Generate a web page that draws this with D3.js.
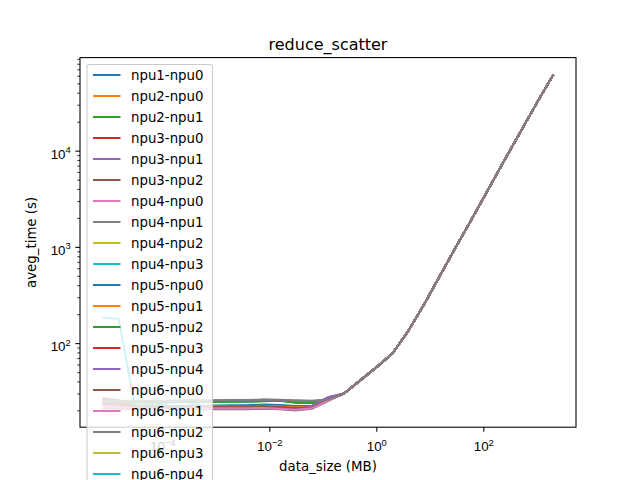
<!DOCTYPE html>
<html>
<head>
<meta charset="utf-8">
<script src="https://cdn.jsdelivr.net/npm/d3@7"></script>
<style>
  body { margin: 0; background: #fff; }
  svg { display: block; font-family: "DejaVu Sans", sans-serif; }
</style>
</head>
<body>
<svg width="640" height="480"></svg>
<script>
// message sizes in bytes (8 B .. 2 GB, doubling)
const sizesBytes = [8, 16, 32, 64, 128, 256, 512, 1024, 2048, 4096, 8192, 16384, 32768,
  65536, 131072, 262144, 524288, 1048576, 2097152, 4194304, 8388608, 16777216, 33554432,
  67108864, 134217728, 268435456, 536870912, 1073741824, 2147483648];

const pairNames = ["npu1-npu0", "npu2-npu0", "npu2-npu1", "npu3-npu0", "npu3-npu1",
  "npu3-npu2", "npu4-npu0", "npu4-npu1", "npu4-npu2", "npu4-npu3", "npu5-npu0",
  "npu5-npu1", "npu5-npu2", "npu5-npu3", "npu5-npu4", "npu6-npu0", "npu6-npu1",
  "npu6-npu2", "npu6-npu3", "npu6-npu4", "npu6-npu5", "npu7-npu0", "npu7-npu1",
  "npu7-npu2", "npu7-npu3", "npu7-npu4", "npu7-npu5", "npu7-npu6"];

// per-pair times for the small sizes (8 B .. 128 KB)
const headTimes = [
  [23.0, 22.6, 22.4, 22.3, 22.2, 22.3, 22.4, 22.5, 22.6, 22.7, 23.0, 22.8, 22.2, 22.4, 26.0],
  [26.5, 24.0, 22.0, 21.7, 21.6, 21.5, 21.6, 21.7, 21.8, 21.9, 22.1, 21.8, 21.2, 21.7, 25.8],
  [24.2, 24.3, 24.3, 24.4, 24.3, 24.5, 24.6, 24.6, 24.7, 24.8, 25.0, 25.4, 24.1, 24.0, 25.6],
  [24.5, 23.0, 21.8, 21.5, 21.4, 21.5, 21.6, 21.7, 21.8, 21.9, 22.0, 21.7, 21.1, 21.6, 25.7],
  [22.8, 22.0, 21.4, 21.2, 21.0, 20.9, 21.0, 21.1, 21.2, 21.3, 21.5, 21.0, 20.6, 21.8, 27.2],
  [26.8, 25.5, 22.5, 22.0, 21.8, 21.7, 21.8, 21.9, 22.0, 22.0, 22.2, 21.8, 21.3, 21.8, 25.9],
  [22.5, 21.8, 21.2, 21.0, 20.9, 21.0, 21.1, 21.2, 21.2, 21.3, 21.4, 21.0, 20.5, 21.3, 25.4],
  [25.5, 25.2, 25.0, 25.1, 25.2, 25.3, 25.4, 25.5, 25.6, 25.6, 25.9, 25.8, 25.4, 25.2, 26.0],
  [23.5, 22.5, 21.8, 21.6, 21.5, 21.5, 21.6, 21.7, 21.7, 21.8, 22.0, 21.6, 21.0, 21.5, 25.6],
  [24.0, 23.0, 22.0, 21.8, 21.7, 21.8, 21.9, 22.0, 22.0, 22.1, 22.3, 21.9, 21.3, 21.8, 25.8],
  [22.8, 22.2, 21.9, 21.8, 21.7, 21.8, 21.9, 22.0, 22.1, 22.2, 22.4, 22.0, 21.4, 21.9, 25.9],
  [25.0, 23.5, 22.0, 21.8, 21.6, 21.6, 21.7, 21.8, 21.9, 22.0, 22.2, 21.9, 21.3, 21.8, 26.0],
  [24.0, 24.1, 24.2, 24.2, 24.3, 24.4, 24.4, 24.5, 24.6, 24.7, 24.9, 25.2, 24.0, 23.9, 25.6],
  [23.2, 22.4, 21.7, 21.5, 21.4, 21.4, 21.5, 21.6, 21.6, 21.7, 21.9, 21.5, 20.9, 21.5, 25.6],
  [22.6, 21.9, 21.3, 21.1, 21.0, 21.0, 21.1, 21.2, 21.3, 21.4, 21.6, 21.1, 20.7, 22.2, 27.4],
  [26.6, 24.8, 22.2, 21.9, 21.7, 21.6, 21.7, 21.8, 21.9, 22.0, 22.1, 21.7, 21.2, 21.7, 25.8],
  [22.4, 21.7, 21.1, 20.9, 20.8, 20.9, 21.0, 21.1, 21.1, 21.2, 21.3, 20.9, 20.4, 21.2, 25.3],
  [21.0, 20.8, 20.6, 20.5, 20.4, 20.4, 20.5, 20.6, 20.7, 20.6, 20.8, 20.6, 20.0, 20.8, 25.0],
  [23.8, 22.8, 21.9, 21.7, 21.6, 21.6, 21.7, 21.8, 21.8, 21.9, 22.1, 21.7, 21.1, 21.6, 25.6],
  [185, 178, 22.5, 23.0, 23.8, 25.2, 22.6, 22.0, 21.9, 22.0, 22.1, 21.7, 21.2, 21.7, 25.7],
  [23.4, 22.7, 22.0, 21.9, 21.8, 21.9, 22.0, 22.1, 22.2, 22.3, 22.5, 22.1, 21.5, 22.0, 25.9],
  [25.8, 23.8, 22.1, 21.9, 21.7, 21.7, 21.8, 21.9, 22.0, 22.1, 22.3, 22.0, 21.4, 21.9, 26.0],
  [24.1, 24.2, 24.3, 24.3, 24.4, 24.5, 24.5, 24.6, 24.7, 24.8, 25.0, 25.3, 24.2, 24.1, 25.7],
  [23.6, 22.6, 21.8, 21.6, 21.5, 21.5, 21.6, 21.7, 21.7, 21.8, 22.0, 21.6, 21.0, 21.6, 25.8],
  [22.7, 21.9, 21.3, 21.1, 21.0, 21.0, 21.1, 21.2, 21.2, 21.3, 21.5, 21.0, 20.6, 22.0, 27.3],
  [26.2, 24.5, 22.1, 21.8, 21.6, 21.5, 21.6, 21.7, 21.8, 21.9, 22.0, 21.6, 21.0, 21.5, 25.7],
  [22.3, 21.6, 21.0, 20.8, 20.7, 20.8, 20.9, 21.0, 21.0, 21.1, 21.2, 20.8, 20.3, 21.1, 25.3],
  [25.3, 25.1, 25.0, 25.0, 25.1, 25.2, 25.3, 25.4, 25.5, 25.5, 25.8, 25.7, 25.3, 25.1, 25.9]
];

// shared times for the large sizes (256 KB .. 2 GB), all pairs overlap here
const tailTimes = [30, 41, 56, 78, 135, 258, 520, 1040, 2040, 4100, 8200, 16200, 32000, 62000];

const xTicks = [1e-4, 1e-2, 1, 1e2];
const yTicks = [1e2, 1e3, 1e4];

let width = 640,
  height = 480;
let axL = 80, axR = 576, axT = 57.6, axB = 427.2;

let svg = d3.select("svg").attr("viewBox", "0 0 " + width + " " + height);

let series = pairNames.map((name, i) => ({
  name: name,
  color: d3.schemeCategory10[i % 10],
  values: sizesBytes.map((b, j) => ({
    x: b / 1048576,
    y: j < headTimes[i].length ? headTimes[i][j] : tailTimes[j - headTimes[i].length]
  }))
}));

// matplotlib style 5% margins in log space
function logPad(ext) {
  let a = Math.log10(ext[0]), b = Math.log10(ext[1]), m = (b - a) * 0.05;
  return [Math.pow(10, a - m), Math.pow(10, b + m)];
}
let allPts = series.flatMap((s) => s.values);
let x = d3.scaleLog().domain(logPad(d3.extent(allPts, (d) => d.x))).range([axL, axR]);
let y = d3.scaleLog().domain(logPad(d3.extent(allPts, (d) => d.y))).range([axB, axT]);

function supLabel(sel, v) {
  let e = Math.round(Math.log10(v));
  sel.append("tspan").text("10");
  sel.append("tspan").attr("dy", -5.5).style("font-size", "9.4px")
    .text(e < 0 ? "\u2212" + (-e) : String(e));
}

// minor y ticks
let minorY = [];
let yd = y.domain();
for (let e = Math.floor(Math.log10(yd[0])); e <= Math.ceil(Math.log10(yd[1])); e++) {
  for (let m = 2; m <= 9; m++) {
    let v = m * Math.pow(10, e);
    if (v >= yd[0] && v <= yd[1]) minorY.push(v);
  }
}

let gx = svg.append("g").attr("transform", "translate(0," + axB + ")")
  .call(d3.axisBottom(x).tickValues(xTicks).tickSize(4.67).tickFormat(() => ""));
let gy = svg.append("g").attr("transform", "translate(" + axL + ",0)")
  .call(d3.axisLeft(y).tickValues(yTicks).tickSize(4.67).tickFormat(() => ""));
let gym = svg.append("g").attr("transform", "translate(" + axL + ",0)")
  .call(d3.axisLeft(y).tickValues(minorY).tickSize(2.67).tickFormat(() => ""));

[gx, gy, gym].forEach((g) => {
  g.select(".domain").remove();
  g.selectAll("line").attr("stroke", "#000").attr("stroke-width", 1.07);
});
gym.selectAll("line").attr("stroke-width", 0.8);

gx.selectAll(".tick").each(function (d) {
  let t = d3.select(this).append("text").attr("y", 24.3).attr("fill", "#000")
    .attr("text-anchor", "middle").style("font-size", "13.33px");
  supLabel(t, d);
});
gy.selectAll(".tick").each(function (d) {
  let t = d3.select(this).append("text").attr("x", -9.3).attr("y", 7.5).attr("fill", "#000")
    .attr("text-anchor", "end").style("font-size", "13.33px");
  supLabel(t, d);
});

// lines
svg.append("clipPath").attr("id", "clip").append("rect")
  .attr("x", axL).attr("y", axT).attr("width", axR - axL).attr("height", axB - axT);

let line = d3.line().x((d) => x(d.x)).y((d) => y(d.y));
svg.append("g").attr("clip-path", "url(#clip)")
  .selectAll("path")
  .data(series)
  .enter()
  .append("path")
  .attr("d", (d) => line(d.values))
  .attr("fill", "none")
  .attr("stroke", (d) => d.color)
  .attr("stroke-width", 2)
  .attr("stroke-linejoin", "round");

// spines
svg.append("rect").attr("x", axL).attr("y", axT).attr("width", axR - axL)
  .attr("height", axB - axT).attr("fill", "none").attr("stroke", "#000")
  .attr("stroke-width", 1.07);

// title and axis labels
svg.append("text").attr("x", (axL + axR) / 2).attr("y", 49.6).attr("text-anchor", "middle")
  .style("font-size", "16px").text("reduce_scatter");
svg.append("text").attr("x", (axL + axR) / 2).attr("y", 471).attr("text-anchor", "middle")
  .style("font-size", "13.33px").text("data_size (MB)");
svg.append("text").attr("transform", "translate(35.5," + (axT + axB) / 2 + ") rotate(-90)")
  .attr("text-anchor", "middle").style("font-size", "13.33px").text("aveg_time (s)");

// legend (runs past the bottom edge, as in the original)
let rowH = 21.0, row0 = 75;
let legend = svg.append("g");
legend.append("rect").attr("x", 87).attr("y", 64.5).attr("width", 125.5)
  .attr("height", series.length * rowH + 12).attr("rx", 2.7)
  .attr("fill", "#fff").attr("fill-opacity", 0.8)
  .attr("stroke", "#cccccc").attr("stroke-width", 1.07);
let items = legend.selectAll("g.item").data(series).enter().append("g")
  .attr("transform", (d, i) => "translate(0," + (row0 + i * rowH) + ")");
items.append("line").attr("x1", 93).attr("x2", 120.5)
  .attr("stroke", (d) => d.color).attr("stroke-width", 2);
items.append("text").attr("x", 131).attr("y", 4.7).style("font-size", "13.33px")
  .text((d) => d.name);
</script>
</body>
</html>
